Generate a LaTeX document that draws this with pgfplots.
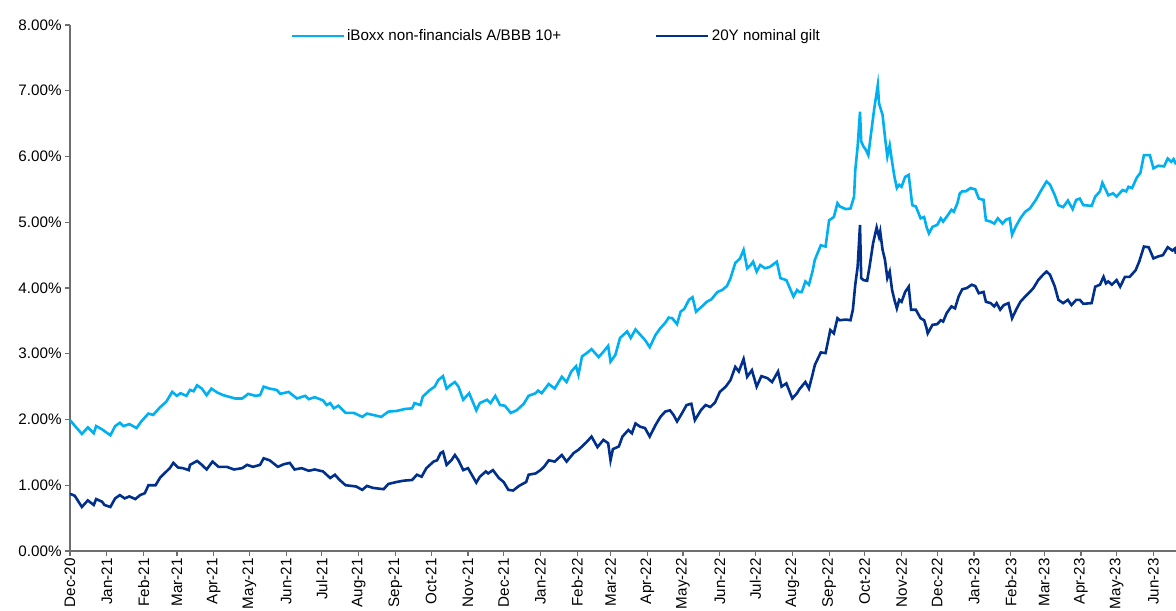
\documentclass[border=0pt]{standalone}
\usepackage{pgfplots}
\pgfplotsset{compat=1.18}
\usepackage{fontspec}
\setmainfont{Liberation Sans}
\definecolor{lightser}{RGB}{0,176,240}
\definecolor{darkser}{RGB}{0,48,140}
\definecolor{axgray}{RGB}{110,110,110}
\begin{document}
\begin{tikzpicture}
\begin{axis}[
  scale only axis,
  width=553pt, height=263pt,
  xmin=0, xmax=931, ymin=0, ymax=8,
  axis x line*=bottom, axis y line*=left,
  axis line style={axgray, line width=0.6pt},
  every tick/.style={axgray, line width=0.6pt},
  tick align=outside, major tick length=2.5pt,
  xtick={0,31,62,90,121,151,182,212,243,274,304,335,365,396,427,455,486,516,547,577,608,639,669,700,730,761,792,820,851,881,912},
  xticklabels={Dec-20,Jan-21,Feb-21,Mar-21,Apr-21,May-21,Jun-21,Jul-21,Aug-21,Sep-21,Oct-21,Nov-21,Dec-21,Jan-22,Feb-22,Mar-22,Apr-22,May-22,Jun-22,Jul-22,Aug-22,Sep-22,Oct-22,Nov-22,Dec-22,Jan-23,Feb-23,Mar-23,Apr-23,May-23,Jun-23},
  x tick label style={rotate=90, anchor=east, font=\fontsize{7.6}{9}\selectfont, inner sep=1pt},
  ytick={0,1,2,3,4,5,6,7,8},
  yticklabel={\pgfmathprintnumber[fixed,fixed zerofill,precision=2]{\tick}\%},
  y tick label style={font=\fontsize{7.6}{9}\selectfont, inner sep=1.5pt},
  /pgf/number format/assume math mode=true,
  legend columns=2,
  legend style={at={(0.1935,0.979)}, anchor=west, draw=none, fill=none,
    font=\fontsize{7.6}{9}\selectfont,
    /tikz/every even column/.append style={column sep=46pt},
    nodes={inner sep=1pt}},
  legend image code/.code={\draw[#1] (0pt,0pt) -- (26pt,0pt);},
  clip=true,
]
\addplot[lightser, line width=1.3pt] table {
x y
0 1.99
10 1.78
15 1.88
20 1.79
22 1.90
27 1.85
34 1.76
38 1.90
42 1.95
45 1.90
50 1.93
56 1.87
60 1.97
66 2.09
70 2.07
76 2.19
81 2.27
86 2.42
90 2.36
93 2.40
98 2.36
101 2.45
104 2.43
107 2.52
111 2.47
115 2.37
119 2.47
124 2.41
129 2.37
135 2.34
139 2.32
145 2.32
150 2.39
156 2.36
160 2.37
163 2.50
168 2.47
174 2.45
177 2.39
184 2.42
191 2.32
198 2.36
201 2.31
206 2.34
213 2.29
216 2.22
219 2.25
222 2.17
226 2.21
232 2.10
239 2.10
246 2.04
250 2.09
255 2.07
262 2.04
268 2.12
275 2.13
282 2.16
288 2.17
290 2.25
295 2.22
297 2.35
303 2.45
307 2.50
310 2.60
314 2.66
317 2.47
320 2.52
324 2.57
327 2.50
331 2.30
336 2.40
342 2.14
345 2.25
351 2.30
354 2.25
358 2.36
362 2.22
366 2.21
371 2.10
376 2.14
382 2.24
386 2.36
392 2.40
394 2.44
397 2.40
403 2.54
408 2.47
414 2.65
418 2.57
422 2.73
426 2.81
428 2.68
431 2.96
435 3.01
439 3.07
445 2.95
449 3.03
453 3.12
455 2.88
459 2.98
463 3.24
469 3.34
472 3.24
476 3.37
480 3.29
484 3.21
488 3.10
493 3.29
497 3.39
501 3.47
504 3.55
507 3.54
511 3.45
514 3.64
517 3.68
521 3.82
524 3.86
527 3.64
532 3.72
536 3.79
540 3.83
545 3.94
549 3.97
553 4.03
556 4.15
560 4.38
564 4.45
567 4.58
570 4.30
573 4.35
575 4.40
578 4.25
581 4.35
585 4.30
589 4.32
595 4.40
598 4.15
603 4.12
609 3.87
612 3.97
614 3.94
616 3.94
619 4.10
622 4.05
625 4.25
627 4.43
632 4.65
636 4.63
639 5.03
643 5.08
646 5.29
648 5.24
653 5.20
657 5.21
660 5.39
661 5.79
663 6.15
665 6.68
666 6.23
668 6.15
670 6.10
672 6.02
675 6.45
677 6.73
680 7.09
681 6.81
684 6.63
686 6.30
688 6.00
690 6.17
692 5.92
694 5.69
696 5.52
698 5.57
700 5.54
703 5.69
706 5.72
709 5.26
712 5.24
716 5.06
719 5.08
721 4.93
723 4.83
726 4.93
730 4.96
733 5.06
735 5.01
739 5.11
742 5.19
744 5.16
747 5.29
749 5.44
751 5.47
754 5.47
758 5.52
762 5.50
765 5.36
769 5.34
771 5.03
775 5.01
778 4.98
781 5.06
785 4.98
788 5.04
791 5.06
793 4.81
796 4.93
800 5.06
804 5.16
808 5.21
813 5.34
817 5.47
822 5.62
825 5.57
829 5.41
832 5.26
836 5.23
840 5.33
844 5.20
847 5.34
850 5.36
853 5.26
860 5.25
863 5.39
867 5.47
869 5.60
872 5.49
874 5.41
878 5.44
881 5.39
886 5.49
889 5.47
891 5.54
894 5.52
898 5.68
901 5.75
904 6.02
909 6.02
912 5.82
916 5.86
921 5.85
924 5.97
927 5.92
929 5.96
931 5.88
};
\addlegendentry{iBoxx non-financials A/BBB 10+}
\addplot[darkser, line width=1.3pt] table {
x y
0 0.87
4 0.84
10 0.67
15 0.77
20 0.70
22 0.79
27 0.75
29 0.70
34 0.67
38 0.80
42 0.85
46 0.80
50 0.83
55 0.79
59 0.85
63 0.88
66 1.00
72 1.00
76 1.12
80 1.19
84 1.26
87 1.34
91 1.27
95 1.26
100 1.23
101 1.31
107 1.37
111 1.31
115 1.24
120 1.36
125 1.28
132 1.28
138 1.24
145 1.26
149 1.31
154 1.28
160 1.31
163 1.41
168 1.38
175 1.28
180 1.32
185 1.34
189 1.24
195 1.26
201 1.22
206 1.24
213 1.21
219 1.11
223 1.16
227 1.08
232 1.00
237 0.99
241 0.98
246 0.93
250 0.99
255 0.96
264 0.94
268 1.02
275 1.05
281 1.07
288 1.08
292 1.16
296 1.13
300 1.26
306 1.36
309 1.38
312 1.49
314 1.51
317 1.31
321 1.38
324 1.46
327 1.38
331 1.23
335 1.26
342 1.04
345 1.13
350 1.21
352 1.18
356 1.23
361 1.11
365 1.05
369 0.93
373 0.92
378 0.99
384 1.05
386 1.16
392 1.18
396 1.23
399 1.28
403 1.38
408 1.36
414 1.46
418 1.36
424 1.49
428 1.54
431 1.59
435 1.66
439 1.74
444 1.58
449 1.69
453 1.64
455 1.38
457 1.55
462 1.59
465 1.74
470 1.84
473 1.79
476 1.94
480 1.89
484 1.87
488 1.74
493 1.92
497 2.04
501 2.12
505 2.14
508 2.07
511 1.97
515 2.09
519 2.22
523 2.24
526 1.99
531 2.14
535 2.22
539 2.19
543 2.26
547 2.42
552 2.50
556 2.60
560 2.80
563 2.73
567 2.92
570 2.65
574 2.75
578 2.50
582 2.66
587 2.63
591 2.57
596 2.73
599 2.50
603 2.55
608 2.32
612 2.40
614 2.46
619 2.57
622 2.47
625 2.68
627 2.83
632 3.02
636 3.01
640 3.36
643 3.31
646 3.54
648 3.51
653 3.52
657 3.51
659 3.67
661 4.05
663 4.32
665 4.96
666 4.15
668 4.12
671 4.11
673 4.32
676 4.68
679 4.92
681 4.78
682 4.86
684 4.58
686 4.43
688 4.15
690 4.25
692 3.97
694 3.82
696 3.69
698 3.82
700 3.79
703 3.94
706 4.02
708 3.67
712 3.67
716 3.54
719 3.51
721 3.39
722 3.31
726 3.44
730 3.45
733 3.51
735 3.49
738 3.62
742 3.72
745 3.69
748 3.87
751 3.98
755 4.00
759 4.05
762 4.03
765 3.92
769 3.94
771 3.79
775 3.77
778 3.72
780 3.77
783 3.67
786 3.74
790 3.77
793 3.54
797 3.69
800 3.79
804 3.87
808 3.94
811 4.00
815 4.12
819 4.20
822 4.25
825 4.20
829 4.02
832 3.82
836 3.77
840 3.82
843 3.74
847 3.82
850 3.82
853 3.76
860 3.77
863 4.02
867 4.05
870 4.17
872 4.07
874 4.10
877 4.05
881 4.12
884 4.02
888 4.17
892 4.17
897 4.27
900 4.40
904 4.63
908 4.62
912 4.45
916 4.48
920 4.50
924 4.62
928 4.57
930 4.60
931 4.52
};
\addlegendentry{20Y nominal gilt}
\end{axis}
\pgfresetboundingbox
\path[use as bounding box] (-35pt,-29.5pt) rectangle (553pt,275.5pt);
\end{tikzpicture}
\end{document}
